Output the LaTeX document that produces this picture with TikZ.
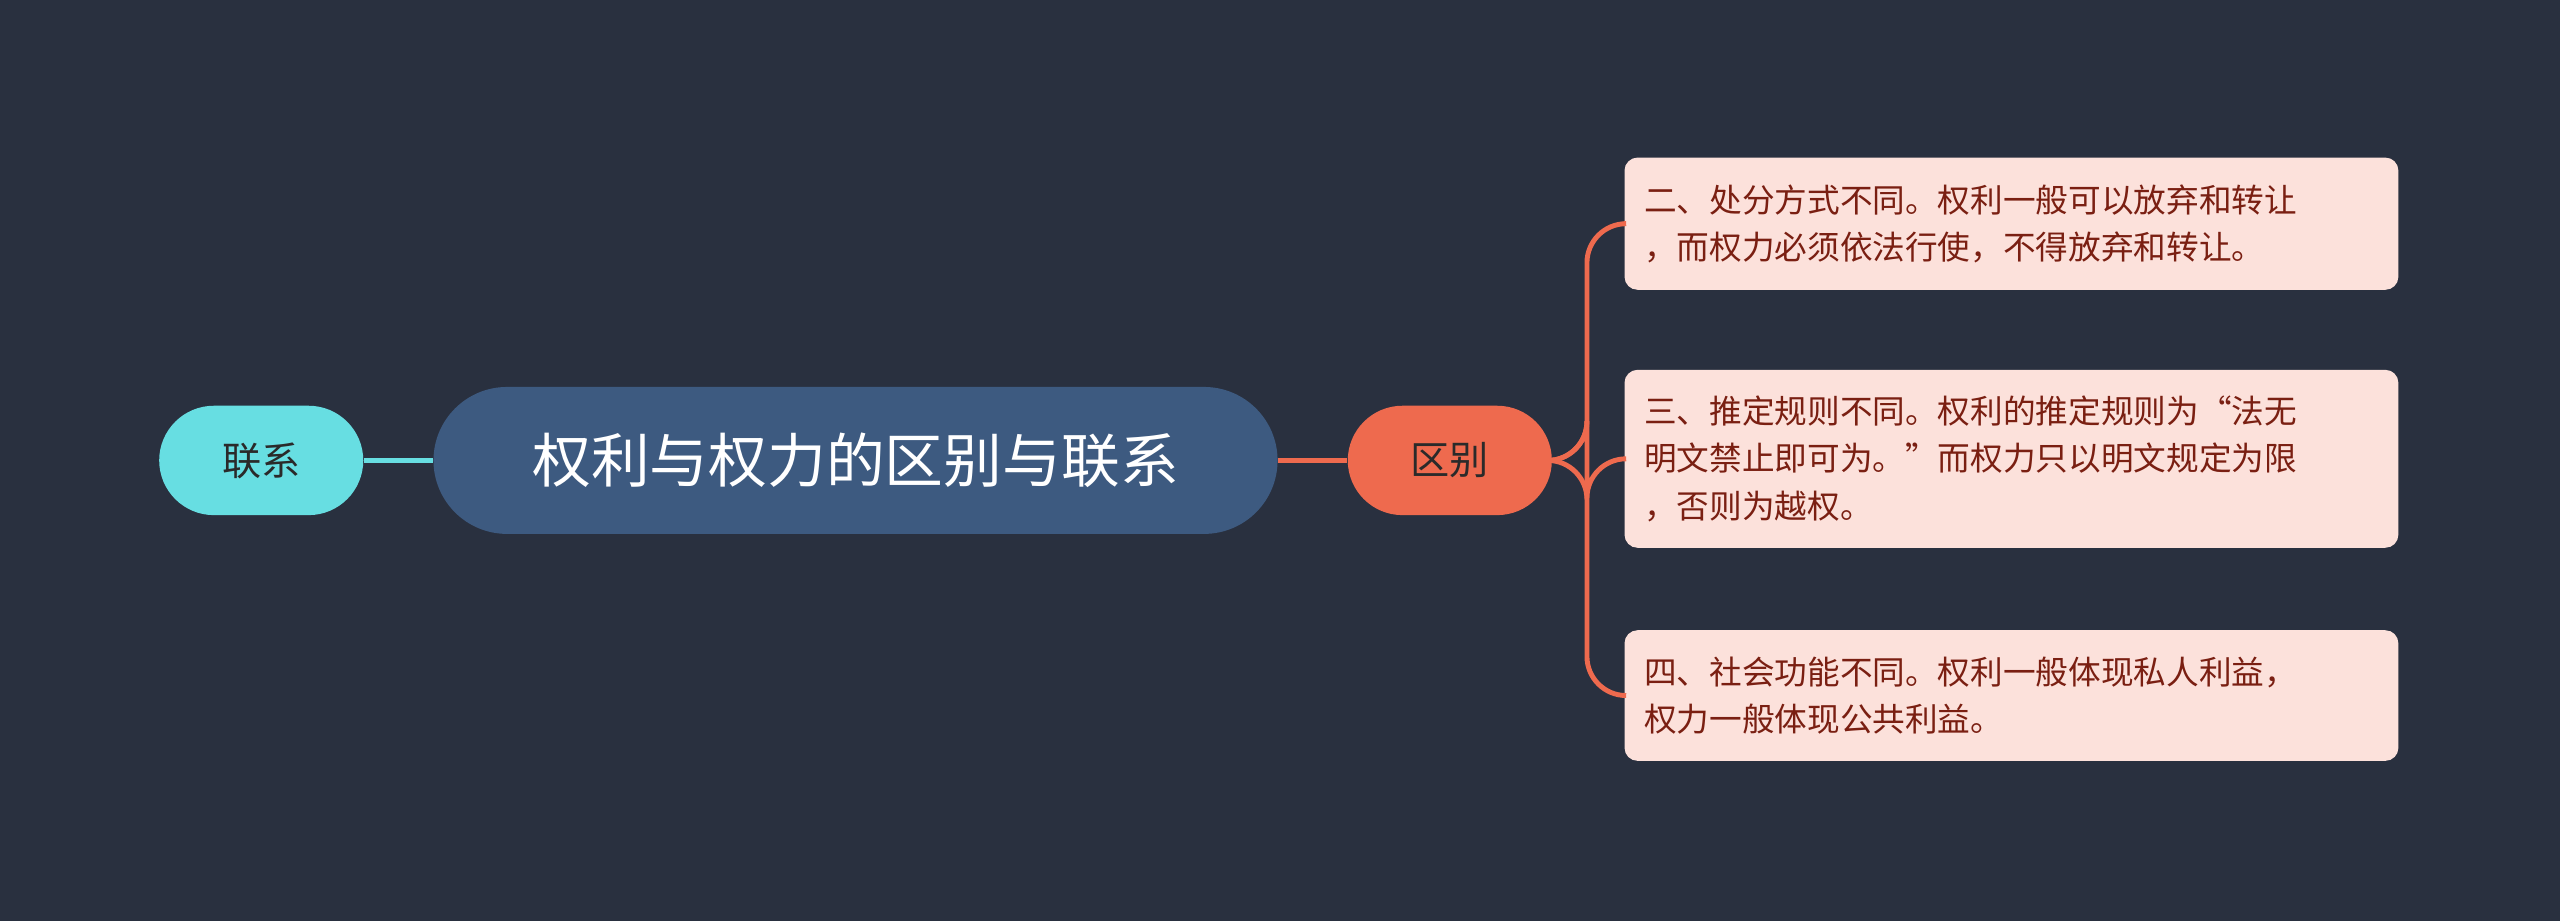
\documentclass[tikz,border=0pt]{standalone}
\usepackage{fontspec}
\setmainfont{Noto Sans CJK SC}
\usetikzlibrary{positioning}
\definecolor{bgc}{HTML}{29303F}
\definecolor{rootc}{HTML}{3D5A80}
\definecolor{cyanc}{HTML}{67DEE2}
\definecolor{orangec}{HTML}{EE6A4E}
\definecolor{leafc}{HTML}{FCE1DB}
\definecolor{leaftext}{HTML}{7A1F12}
\definecolor{darktext}{HTML}{2A2A2A}
\tikzset{rootnode/.style={shape=rectangle, rounded corners=22.5pt, fill=rootc, text=white, minimum width=258.5pt, minimum height=45pt, font=\fontsize{18}{22}\selectfont},
branchnode/.style={shape=rectangle, rounded corners=16.75pt, minimum width=62.5pt, minimum height=33.5pt, text=darktext, font=\fontsize{12}{15}\selectfont},
leafnode/.style={shape=rectangle, rounded corners=4pt, fill=leafc, text=leaftext, align=left, text width=225pt, inner xsep=6pt, inner ysep=6pt, font=\fontsize{10}{14.5}\selectfont}}
\begin{document}
\begin{tikzpicture}[x=0.5pt,y=-0.5pt]
\fill[bgc] (0,0) rectangle (1568,564) ;
\useasboundingbox (0,0) rectangle (1568,564) ;
\node[rootnode] (root) at (524,282) {权利与权力的区别与联系} ;
\node[branchnode, fill=cyanc] (lianxi) at (160,282) {联系} ;
\node[branchnode, fill=orangec] (qubie) at (888,282) {区别} ;
\node[leafnode, minimum height=40.5pt] (leafA) at (1232,137) {二、处分方式不同。权利一般可以放弃和转让\\，而权力必须依法行使，不得放弃和转让。} ;
\node[leafnode, minimum height=54.5pt] (leafB) at (1232,281) {三、推定规则不同。权利的推定规则为“法无\\明文禁止即可为。”而权力只以明文规定为限\\，否则为越权。} ;
\node[leafnode, minimum height=40pt] (leafC) at (1232,426) {四、社会功能不同。权利一般体现私人利益，\\权力一般体现公共利益。} ;
\draw[cyanc, line width=1.5pt] (lianxi)--(root) ;
\draw[orangec, line width=1.5pt] (root)--(qubie) ;
\foreach \leaf in {leafA,leafB,leafC}{
	\draw[orangec, line width=1.5pt, rounded corners=12pt] (qubie.east)--(972,282) |- (\leaf.west) ;
}
\end{tikzpicture}
\end{document}
